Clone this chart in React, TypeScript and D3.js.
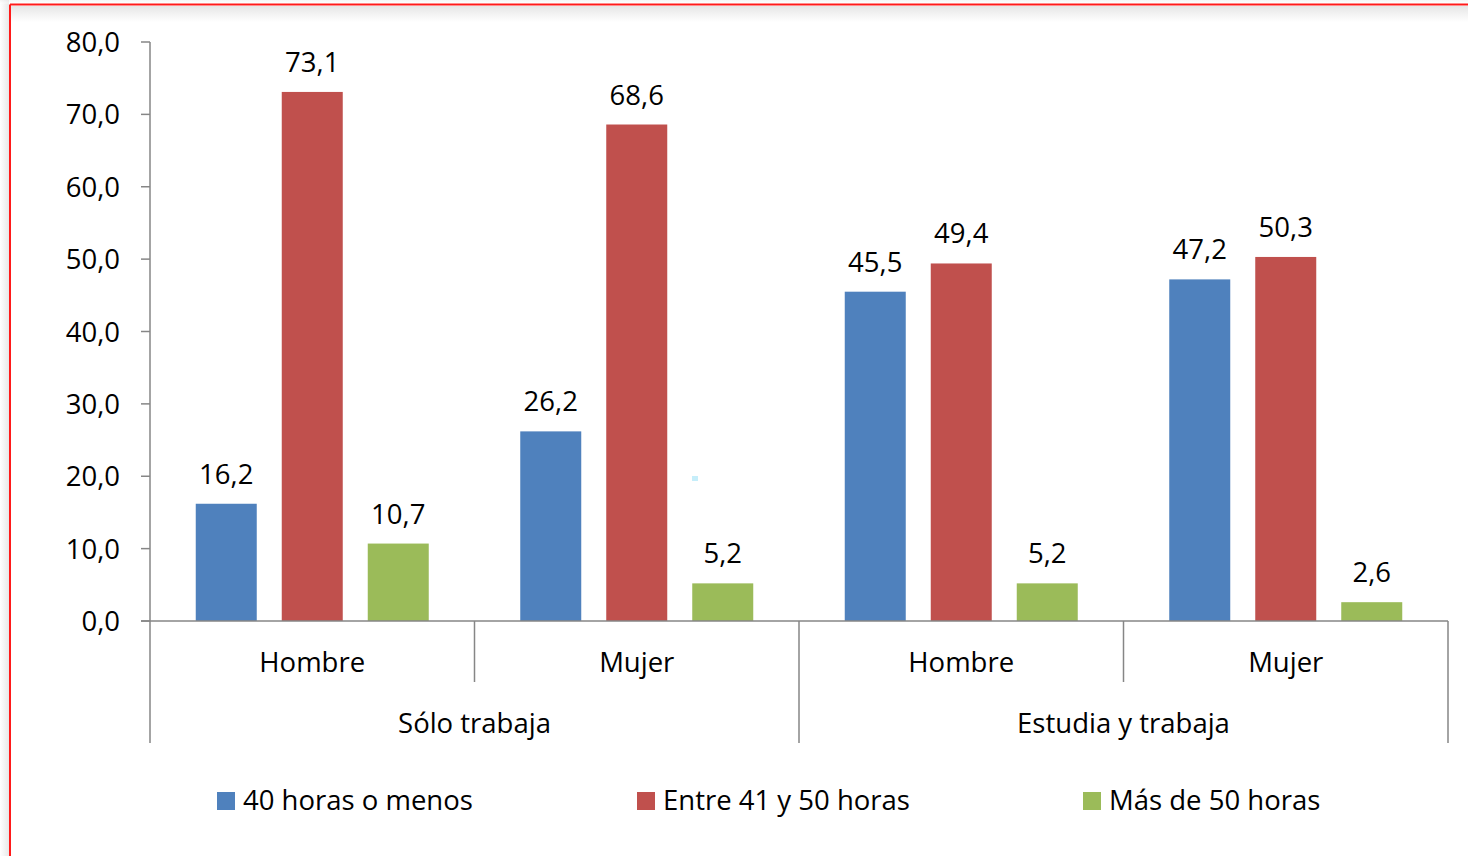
import React from "react";
import * as d3 from "d3";

const outerCategories = ["Sólo trabaja", "Estudia y trabaja"];
const innerCategories = ["Hombre", "Mujer"];
const seriesNames = ["40 horas o menos", "Entre 41 y 50 horas", "Más de 50 horas"];
const seriesColors = ["#4F81BD", "#C0504D", "#9BBB59"];
// values per group [Sólo-Hombre, Sólo-Mujer, Estudia-Hombre, Estudia-Mujer]
const series40menos = [16.2, 26.2, 45.5, 47.2];
const series41a50 = [73.1, 68.6, 49.4, 50.3];
const seriesMas50 = [10.7, 5.2, 5.2, 2.6];
const yTicks = [0, 10, 20, 30, 40, 50, 60, 70, 80];

const W = 1468;
const H = 856;
const FONT = "'Open Sans', 'DejaVu Sans', sans-serif";
const FS = 27.5;
const AXIS = "#868686";

export default function App() {
  const seriesValues = [series40menos, series41a50, seriesMas50];
  const groups: { outer: string; inner: string; key: string }[] = [];
  outerCategories.forEach((o) =>
    innerCategories.forEach((i) => groups.push({ outer: o, inner: i, key: o + "|" + i }))
  );

  const x0 = d3.scaleBand<string>().domain(groups.map((g) => g.key)).range([150, 1448]).padding(0);
  const xOuter = d3.scaleBand<string>().domain(outerCategories).range([150, 1448]).padding(0);
  const x1 = d3
    .scaleBand<string>()
    .domain(seriesNames)
    .range([0, x0.bandwidth()])
    .paddingInner(0.2907)
    .paddingOuter(0.532);
  const y = d3.scaleLinear().domain([0, 80]).range([621, 42]);
  const fmt = (v: number) => d3.format(".1f")(v).replace(".", ",");

  const baseY = y(0);
  const legendX = [217, 637, 1083];

  return (
    <svg
      width={W}
      height={H}
      style={{ position: "fixed", left: 0, top: 0, background: "#fff" }}
      fontFamily={FONT}
    >
      <defs>
        <linearGradient id="shTop" x1="0" y1="0" x2="0" y2="1">
          <stop offset="0" stopColor="#e6e6e6" />
          <stop offset="1" stopColor="#ffffff" />
        </linearGradient>
        <linearGradient id="shLeft" x1="1" y1="0" x2="0" y2="0">
          <stop offset="0" stopColor="#e8e8e8" />
          <stop offset="1" stopColor="#ffffff" />
        </linearGradient>
      </defs>
      <rect x={0} y={0} width={W} height={H} fill="#fff" />
      {/* frame shadows */}
      <rect x={11} y={6} width={W - 11} height={16} fill="url(#shTop)" />
      <rect x={0} y={0} width={9} height={H} fill="url(#shLeft)" />
      <rect x={0} y={0} width={W} height={3.5} fill="url(#shTop)" opacity={0.4} />
      {/* red frame */}
      <line x1={10} y1={4.5} x2={W} y2={4.5} stroke="#ff1a1a" strokeWidth={2} />
      <line x1={10} y1={4.5} x2={10} y2={H} stroke="#ff1a1a" strokeWidth={2} />

      {/* y axis */}
      <line x1={150} y1={y(80)} x2={150} y2={baseY} stroke={AXIS} strokeWidth={1.5} />
      {yTicks.map((t) => (
        <g key={t}>
          <line x1={141} y1={y(t)} x2={150} y2={y(t)} stroke={AXIS} strokeWidth={1.5} />
          <text x={120} y={y(t)} dy={10} textAnchor="end" fontSize={FS} fill="#000">
            {fmt(t)}
          </text>
        </g>
      ))}

      {/* bars */}
      {groups.map((g, gi) => (
        <g key={g.key} transform={`translate(${x0(g.key)},0)`}>
          {seriesNames.map((s, si) => {
            const v = seriesValues[si][gi];
            const bx = x1(s)!;
            return (
              <g key={s}>
                <rect x={bx} y={y(v)} width={x1.bandwidth()} height={baseY - y(v)} fill={seriesColors[si]} />
                <text
                  x={bx + x1.bandwidth() / 2}
                  y={y(v) - 20}
                  textAnchor="middle"
                  fontSize={FS}
                  fill="#000"
                >
                  {fmt(v)}
                </text>
              </g>
            );
          })}
        </g>
      ))}

      {/* small artifact dot */}
      <rect x={692} y={476} width={6} height={5} fill="#c6eefa" />

      {/* x axis */}
      <line x1={141} y1={baseY} x2={1448} y2={baseY} stroke={AXIS} strokeWidth={1.5} />
      {groups.map((g, gi) => {
        const gx = x0(g.key)!;
        return (
          <g key={"xl" + g.key}>
            {gi % 2 === 1 && (
              <line x1={gx} y1={baseY} x2={gx} y2={682} stroke={AXIS} strokeWidth={1.5} />
            )}
            <text x={gx + x0.bandwidth() / 2} y={672} textAnchor="middle" fontSize={FS} fill="#000">
              {g.inner}
            </text>
          </g>
        );
      })}
      {outerCategories.map((o) => {
        const ox = xOuter(o)!;
        return (
          <g key={o}>
            <line x1={ox} y1={baseY} x2={ox} y2={743} stroke={AXIS} strokeWidth={1.5} />
            <text x={ox + xOuter.bandwidth() / 2} y={733} textAnchor="middle" fontSize={FS} fill="#000">
              {o}
            </text>
          </g>
        );
      })}
      <line x1={1448} y1={baseY} x2={1448} y2={743} stroke={AXIS} strokeWidth={1.5} />

      {/* legend */}
      {seriesNames.map((s, i) => (
        <g key={"lg" + s}>
          <rect x={legendX[i]} y={792} width={18} height={18} fill={seriesColors[i]} />
          <text x={legendX[i] + 26} y={810} fontSize={FS} fill="#000">
            {s}
          </text>
        </g>
      ))}
    </svg>
  );
}
